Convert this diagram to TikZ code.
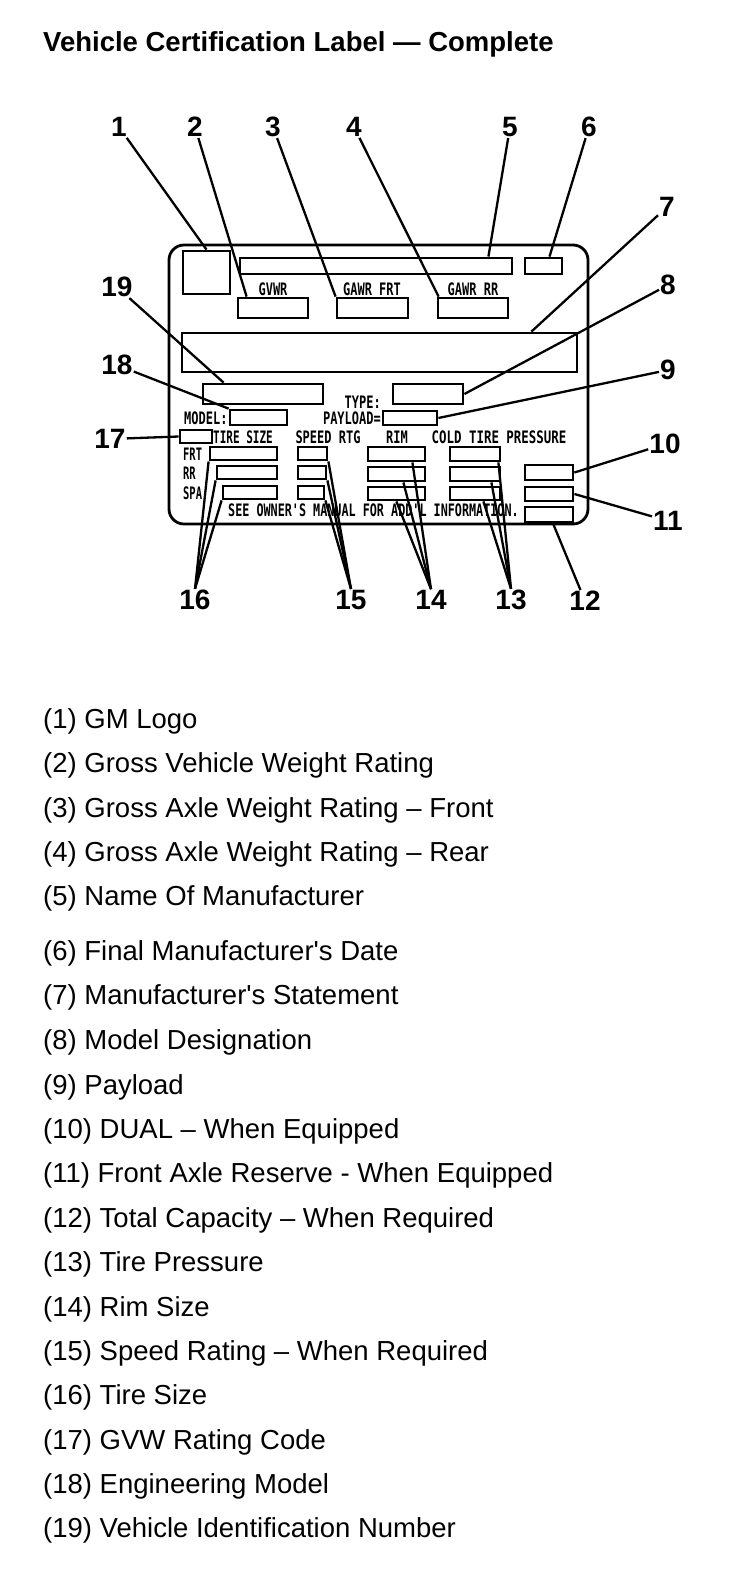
\documentclass[tikz,border=0pt]{standalone}
\usepackage{fontspec}
\setmainfont{Liberation Sans}
\newfontfamily\pixfont{DejaVu Sans Mono}
\newcommand\tagt[2][1.09]{\scalebox{#1}[1.56]{#2}}
\begin{document}
\begin{tikzpicture}[
  x=1pt, y=-1pt,
  every node/.style={inner sep=1pt},
  fld/.style={draw, line width=2.8pt, inner sep=0pt},
  leader/.style={line width=2.3pt},
  num/.style={font=\fontsize{28pt}{28pt}\selectfont\bfseries},
  tag/.style={inner sep=0pt, font=\fontsize{11pt}{11pt}\selectfont\pixfont\bfseries},
  item/.style={anchor=base west, inner sep=0pt, font=\fontsize{27.5pt}{27.5pt}\selectfont}
]
  \useasboundingbox (0,0) rectangle (752,1596);

  \node[anchor=base west, inner sep=0pt, font=\fontsize{27.5pt}{27.5pt}\selectfont\bfseries] (title) at (43,51)
    {Vehicle Certification Label — Complete};

  % label outline
  \draw[line width=2.8pt, rounded corners=15pt] (169,245) rectangle (588,524);

  % fields
  \node[fld, minimum width=47pt, minimum height=43pt] (logo) at (206.5,272.5) {};
  \node[fld, minimum width=272pt, minimum height=16pt] (maker) at (376,266) {};
  \node[fld, minimum width=37pt, minimum height=16pt] (date) at (543.5,266) {};
  \node[fld, minimum width=70pt, minimum height=20pt] (gvwr) at (273,308) {};
  \node[fld, minimum width=71pt, minimum height=20pt] (gawrf) at (372.5,308) {};
  \node[fld, minimum width=70pt, minimum height=20pt] (gawrr) at (473,308) {};
  \node[fld, minimum width=395pt, minimum height=39pt] (stmt) at (379.5,352.5) {};
  \node[fld, minimum width=120pt, minimum height=20pt] (vin) at (263,394) {};
  \node[fld, minimum width=70pt, minimum height=20pt] (type) at (428,394) {};
  \node[fld, minimum width=57pt, minimum height=15pt] (model) at (258.5,417.5) {};
  \node[fld, minimum width=54pt, minimum height=14pt] (payload) at (410,418) {};
  \node[fld, minimum width=32pt, minimum height=13pt] (gvwcode) at (196,436.5) {};
  \node[fld, minimum width=67pt, minimum height=13pt] (tire1) at (243.5,453.5) {};
  \node[fld, minimum width=60pt, minimum height=13pt] (tire2) at (247,472.5) {};
  \node[fld, minimum width=54pt, minimum height=13pt] (tire3) at (250,492.5) {};
  \node[fld, minimum width=29pt, minimum height=13pt] (spd1) at (312.5,453.5) {};
  \node[fld, minimum width=28pt, minimum height=13pt] (spd2) at (312,472.5) {};
  \node[fld, minimum width=26pt, minimum height=13pt] (spd3) at (311,492.5) {};
  \node[fld, minimum width=57pt, minimum height=14pt] (rim1) at (396.5,454) {};
  \node[fld, minimum width=57pt, minimum height=14pt] (rim2) at (396.5,474) {};
  \node[fld, minimum width=57pt, minimum height=13pt] (rim3) at (396.5,493.5) {};
  \node[fld, minimum width=50pt, minimum height=14pt] (cold1) at (475,454) {};
  \node[fld, minimum width=50pt, minimum height=14pt] (cold2) at (475,474) {};
  \node[fld, minimum width=50pt, minimum height=13pt] (cold3) at (475,493.5) {};
  \node[fld, minimum width=48pt, minimum height=15pt] (dual) at (549,472.5) {};
  \node[fld, minimum width=48pt, minimum height=14pt] (reserve) at (549,494) {};
  \node[fld, minimum width=48pt, minimum height=15pt] (capacity) at (549,514.5) {};

  % printed captions on the label
  \node[tag] (tgvwr) at (273,289) {\tagt{GVWR}};
  \node[tag] (tgawrf) at (372,289) {\tagt{GAWR FRT}};
  \node[tag] (tgawrr) at (473,289) {\tagt{GAWR RR}};
  \node[tag, anchor=east] (ttype) at (381,402) {\tagt{TYPE:}};
  \node[tag, anchor=west] (tmodel) at (184,418) {\tagt{MODEL:}};
  \node[tag, anchor=east] (tpayload) at (381,418) {\tagt{PAYLOAD=}};
  \node[tag] (ttire) at (243,437) {\tagt[1]{TIRE SIZE}};
  \node[tag] (tspeed) at (328,437) {\tagt{SPEED RTG}};
  \node[tag] (trim) at (397,437) {\tagt{RIM}};
  \node[tag] (tcold) at (499,437) {\tagt[1.13]{COLD TIRE PRESSURE}};
  \node[tag, anchor=west] (tfrt) at (183,454) {\tagt[0.95]{FRT}};
  \node[tag, anchor=west] (trr) at (183,473) {\tagt[0.95]{RR}};
  \node[tag, anchor=west] (tspa) at (183,493) {\tagt[0.95]{SPA}};
  \node[tag, anchor=west] (tsee) at (228,510) {\tagt[1.07]{SEE OWNER'S MANUAL FOR ADD'L INFORMATION.}};

  % callout numbers
  \node[num] (n1) at (119,127) {1};
  \node[num] (n2) at (195,127) {2};
  \node[num] (n3) at (273,127) {3};
  \node[num] (n4) at (354,127) {4};
  \node[num] (n5) at (510,127) {5};
  \node[num] (n6) at (589,127) {6};
  \node[num] (n7) at (667,207) {7};
  \node[num] (n8) at (668,285) {8};
  \node[num] (n9) at (668,370) {9};
  \node[num] (n10) at (665,444) {10};
  \node[num] (n11) at (668,521) {11};
  \node[num] (n12) at (585,601) {12};
  \node[num] (n13) at (511,600) {13};
  \node[num] (n14) at (431,600) {14};
  \node[num] (n15) at (351,600) {15};
  \node[num] (n16) at (195,600) {16};
  \node[num] (n17) at (110,439) {17};
  \node[num] (n18) at (117,365) {18};
  \node[num] (n19) at (117,287) {19};

  % leaders
  \draw[leader] (n1) -- (logo.north);
  \draw[leader] (n2) -- ([xshift=10pt]gvwr.north west);
  \draw[leader] (n3) -- (gawrf.north west);
  \draw[leader] (n4) -- ([xshift=2pt]gawrr.north west);
  \draw[leader] (n5) -- ([xshift=-25pt]maker.north east);
  \draw[leader] (n6) -- ([xshift=6pt]date.north);
  \draw[leader] (n7) -- ([xshift=-47pt]stmt.north east);
  \draw[leader] (n8) -- (type.east);
  \draw[leader] (n9) -- (payload.east);
  \draw[leader] (n10) -- (dual.east);
  \draw[leader] (n11) -- (reserve.east);
  \draw[leader] (n12) -- ([xshift=4pt]capacity.south);
  \draw[leader] (n13.north) -- ([xshift=-3pt]cold1.south east);
  \draw[leader] (n13.north) -- ([xshift=-10pt]cold2.south east);
  \draw[leader] (n13.north) -- ([xshift=-18pt]cold3.south east);
  \draw[leader] (n14.north) -- ([xshift=-14pt]rim1.south east);
  \draw[leader] (n14.north) -- ([xshift=-23pt]rim2.south east);
  \draw[leader] (n14.north) -- ([xshift=-30pt]rim3.south east);
  \draw[leader] (n15.north) -- (spd1.south east);
  \draw[leader] (n15.north) -- (spd2.south east);
  \draw[leader] (n15.north) -- (spd3.south east);
  \draw[leader] (n16.north) -- (tire1.south west);
  \draw[leader] (n16.north) -- (tire2.south west);
  \draw[leader] (n16.north) -- (tire3.south west);
  \draw[leader] (n17) -- (gvwcode.west);
  \draw[leader] (n18) -- (model.north west);
  \draw[leader] (n19) -- ([xshift=22pt]vin.north west);

  % legend
  \foreach \yy/\txt [count=\i] in {
      728/{(1) GM Logo},
      772/{(2) Gross Vehicle Weight Rating},
      817/{(3) Gross Axle Weight Rating – Front},
      861/{(4) Gross Axle Weight Rating – Rear},
      905/{(5) Name Of Manufacturer},
      960/{(6) Final Manufacturer\textquotesingle s Date},
      1004/{(7) Manufacturer\textquotesingle s Statement},
      1049/{(8) Model Designation},
      1094/{(9) Payload},
      1138/{(10) DUAL – When Equipped},
      1182/{(11) Front Axle Reserve - When Equipped},
      1227/{(12) Total Capacity – When Required},
      1271/{(13) Tire Pressure},
      1316/{(14) Rim Size},
      1360/{(15) Speed Rating – When Required},
      1404/{(16) Tire Size},
      1449/{(17) GVW Rating Code},
      1493/{(18) Engineering Model},
      1537/{(19) Vehicle Identification Number}}
    \node[item] (leg\i) at (43,\yy) {\txt};
\end{tikzpicture}
\end{document}
